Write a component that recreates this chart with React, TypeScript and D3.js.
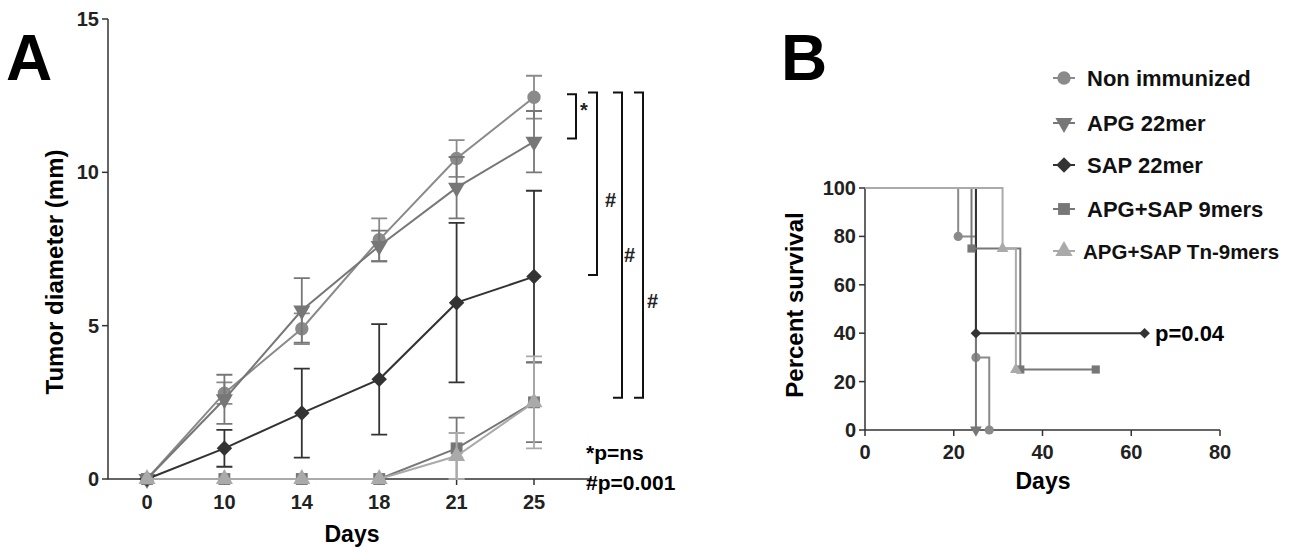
import * as d3 from "d3";

const days = ["0", "10", "14", "18", "21", "25"];
const tumorSeries = [
  { name: "Non immunized", shape: "circle", color: "#8a8a8a", mean: [0, 2.8, 4.9, 7.8, 10.45, 12.45], err: [0, 0.35, 0.5, 0.7, 0.6, 0.7] },
  { name: "APG 22mer", shape: "down", color: "#777", mean: [0, 2.6, 5.5, 7.6, 9.5, 11.0], err: [0, 0.8, 1.05, 0.5, 1.0, 1.0] },
  { name: "SAP 22mer", shape: "diamond", color: "#333", mean: [0, 1.0, 2.15, 3.25, 5.75, 6.6], err: [0, 0.6, 1.45, 1.8, 2.6, 2.8] },
  { name: "APG+SAP 9mers", shape: "square", color: "#777", mean: [0, 0, 0, 0, 1.0, 2.5], err: [0, 0, 0, 0, 1.0, 1.3] },
  { name: "APG+SAP Tn-9mers", shape: "up", color: "#aaa", mean: [0, 0, 0, 0, 0.75, 2.5], err: [0, 0, 0, 0, 0.75, 1.5] },
];

// survival curves: step points [day, percent], marker points
const survival = [
  { steps: [[0, 100], [21, 100], [21, 80], [25, 80], [25, 30], [28, 30], [28, 0]], marks: [[21, 80], [25, 30], [28, 0]] },
  { steps: [[0, 100], [25, 100], [25, 0]], marks: [[25, 0]] },
  { steps: [[0, 100], [25, 100], [25, 40], [63, 40]], marks: [[25, 40], [63, 40]] },
  { steps: [[0, 100], [24, 100], [24, 75], [35, 75], [35, 25], [52, 25]], marks: [[24, 75], [35, 25], [52, 25]] },
  { steps: [[0, 100], [31, 100], [31, 75], [34, 75], [34, 25]], marks: [[31, 75], [34, 25]] },
];

const font = "Liberation Sans, Arial, sans-serif";

function Marker({ shape, x, y, color, s = 8 }: { shape: string; x: number; y: number; color: string; s?: number }) {
  const sym = { circle: d3.symbolCircle, square: d3.symbolSquare, diamond: d3.symbolSquare, up: d3.symbolTriangle, down: d3.symbolTriangle }[shape]!;
  const size = { circle: 1.0, square: 1.0, diamond: 0.85, up: 0.9, down: 0.9 }[shape]! * s * s * 2.2;
  const rot = shape === "down" ? 180 : shape === "diamond" ? 45 : 0;
  return <path d={d3.symbol(sym, size)()!} fill={color} transform={`translate(${x},${y}) rotate(${rot})`} />;
}

export default function App() {
  const xA = d3.scalePoint().domain(days).range([147, 534]);
  const yA = d3.scaleLinear().domain([0, 15]).range([479, 19]);
  const xB = d3.scaleLinear().domain([0, 80]).range([865, 1220]);
  const yB = d3.scaleLinear().domain([0, 100]).range([430, 188]);
  const line = d3.line<number>().x((_, i) => xA(days[i])!).y((d) => yA(d));
  const step = d3.line<number[]>().x((d) => xB(d[0])).y((d) => yB(d[1]));
  const bracket = (x: number, v1: number, v2: number, w = 9) =>
    `M${x - w},${yA(v1)}H${x}V${yA(v2)}H${x - w}`;
  return (
    <svg width={1314} height={548} style={{ position: "absolute", left: 0, top: 0 }} fontFamily={font} fontWeight="bold">
      <rect width={1314} height={548} fill="white" />
      <text x={6} y={80} fontSize={64}>A</text>
      <text x={781} y={80} fontSize={64}>B</text>
      {/* Panel A axes */}
      <g stroke="#333" strokeWidth={1.5} fill="none">
        <path d={`M108,19V479H592`} />
        {[0, 5, 10, 15].map((v) => <path key={v} d={`M102,${yA(v)}H108`} />)}
        {days.map((d) => <path key={d} d={`M${xA(d)},479V485`} />)}
      </g>
      {[0, 5, 10, 15].map((v) => (
        <text key={v} x={99} y={yA(v) + 7} fontSize={20} textAnchor="end" fill="#222">{v}</text>
      ))}
      {days.map((d) => (
        <text key={d} x={xA(d)} y={509} fontSize={20} textAnchor="middle" fill="#222">{d}</text>
      ))}
      <text x={352} y={542} fontSize={23} textAnchor="middle">Days</text>
      <text transform="translate(63,272) rotate(-90)" fontSize={24} textAnchor="middle">Tumor diameter (mm)</text>
      {tumorSeries.map((s) => (
        <g key={s.name}>
          <path d={line(s.mean)!} fill="none" stroke={s.color} strokeWidth={2} />
          {s.mean.map((m, i) => s.err[i] > 0 && (
            <g key={i} stroke={s.color} strokeWidth={1.8}>
              <path d={`M${xA(days[i])},${yA(m - s.err[i])}V${yA(m + s.err[i])}`} />
              <path d={`M${xA(days[i])! - 8},${yA(m - s.err[i])}h16M${xA(days[i])! - 8},${yA(m + s.err[i])}h16`} />
            </g>
          ))}
          {s.mean.map((m, i) => <Marker key={i} shape={s.shape} x={xA(days[i])!} y={yA(m)} color={s.color} />)}
        </g>
      ))}
      <g stroke="#111" strokeWidth={2} fill="none">
        <path d={bracket(576, 12.55, 11.1)} />
        <path d={bracket(597, 12.6, 6.65)} />
        <path d={bracket(622, 12.6, 2.65)} />
        <path d={bracket(643, 12.6, 2.65)} />
      </g>
      <text x={580} y={117} fontSize={20} fill="#222">*</text>
      <text x={605} y={207} fontSize={20} fill="#222">#</text>
      <text x={624} y={262} fontSize={20} fill="#222">#</text>
      <text x={647} y={308} fontSize={20} fill="#222">#</text>
      <text x={586} y={460} fontSize={21}>*p=ns</text>
      <text x={586} y={490} fontSize={21}>#p=0.001</text>
      {/* Panel B */}
      <g stroke="#333" strokeWidth={1.5} fill="none">
        <path d={`M865,188V430H1220`} />
        {[0, 20, 40, 60, 80, 100].map((v) => <path key={v} d={`M859,${yB(v)}H865`} />)}
        {[0, 20, 40, 60, 80].map((v) => <path key={v} d={`M${xB(v)},430V436`} />)}
      </g>
      {[0, 20, 40, 60, 80, 100].map((v) => (
        <text key={v} x={856} y={yB(v) + 7} fontSize={20} textAnchor="end" fill="#222">{v}</text>
      ))}
      {[0, 20, 40, 60, 80].map((v) => (
        <text key={v} x={xB(v)} y={459} fontSize={20} textAnchor="middle" fill="#222">{v}</text>
      ))}
      <text x={1043} y={489} fontSize={23} textAnchor="middle">Days</text>
      <text transform="translate(803,305) rotate(-90)" fontSize={24} textAnchor="middle">Percent survival</text>
      {survival.map((c, k) => (
        <g key={k}>
          <path d={step(c.steps)!} fill="none" stroke={tumorSeries[k].color} strokeWidth={2} />
          {c.marks.map((m, i) => (
            <Marker key={i} shape={tumorSeries[k].shape} x={xB(m[0])} y={yB(m[1])} color={tumorSeries[k].color} s={5.5} />
          ))}
        </g>
      ))}
      <text x={1155} y={yB(40) + 8} fontSize={22}>p=0.04</text>
      {tumorSeries.map((s, i) => {
        const y = [78, 123, 165, 209, 251][i];
        return (
          <g key={s.name}>
            <path d={`M1053,${y}H1075`} stroke={s.color} strokeWidth={2} />
            <Marker shape={s.shape} x={1064} y={y} color={s.color} s={8} />
            <text x={s.name.includes("Tn") ? 1083 : 1087} y={y + 8} fontSize={s.name.includes("Tn") ? 20.5 : 22} fill="#111">{s.name}</text>
          </g>
        );
      })}
    </svg>
  );
}
